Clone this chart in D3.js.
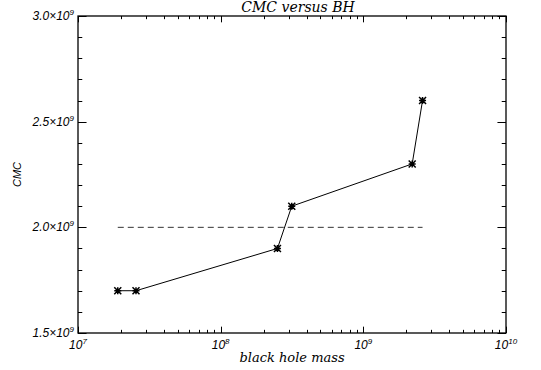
<!DOCTYPE html>
<html>
<head>
<meta charset="utf-8">
<script src="https://cdn.jsdelivr.net/npm/d3@7"></script>
<style>
  body { margin: 0; background: #fff; }
  svg { display: block; }
</style>
</head>
<body>
<svg id="chart" width="541" height="370"></svg>
<script>
// values
const bhMass = [1.9e7, 2.55e7, 2.5e8, 3.15e8, 2.2e9, 2.6e9];
const cmc = [1.7e9, 1.7e9, 1.9e9, 2.1e9, 2.3e9, 2.6e9];
const refLevel = [2.0e9];
const xMajor = [1e7, 1e8, 1e9, 1e10];
const xLabels = ["7", "8", "9", "10"];
const yMajor = [1.5e9, 2.0e9, 2.5e9, 3.0e9];
const yLabels = ["1.5", "2.0", "2.5", "3.0"];

const settings = {
  width: 541,
  height: 370,
  margin: { left: 78, top: 16, right: 35, bottom: 37 },
};

const svg = d3.select("#chart");
const m = settings.margin;
const x0 = m.left, x1 = settings.width - m.right;
const y0 = settings.height - m.bottom, y1 = m.top;

const x = d3.scaleLog().domain([1e7, 1e10]).range([x0, x1]);
const y = d3.scaleLinear().domain([1.5e9, 3.0e9]).range([y0, y1]);

const xlen = 0.02 * (y0 - y1);
const ylen = 0.02 * (x1 - x0);

// minor ticks
const xMinor = [];
xMajor.slice(0, -1).forEach((d) => {
  for (let k = 2; k <= 9; k++) xMinor.push(d * k);
});
const yMinor = d3.range(1.5e9, 3.0e9 + 1, 1e8).filter(
  (v) => !yMajor.some((t) => Math.abs(t - v) < 1)
);

const ticks = svg.append("g").attr("class", "ticks").attr("stroke", "#000").attr("stroke-width", 1);

function xTicks(data, len) {
  ticks.append("g").selectAll("line").data(data).join("line")
    .attr("x1", (d) => Math.round(x(d)) + 0.5).attr("x2", (d) => Math.round(x(d)) + 0.5)
    .attr("y1", y0).attr("y2", y0 - len);
  ticks.append("g").selectAll("line").data(data).join("line")
    .attr("x1", (d) => Math.round(x(d)) + 0.5).attr("x2", (d) => Math.round(x(d)) + 0.5)
    .attr("y1", y1).attr("y2", y1 + len);
}
function yTicks(data, len) {
  ticks.append("g").selectAll("line").data(data).join("line")
    .attr("y1", (d) => Math.round(y(d)) + 0.5).attr("y2", (d) => Math.round(y(d)) + 0.5)
    .attr("x1", x0).attr("x2", x0 + len);
  ticks.append("g").selectAll("line").data(data).join("line")
    .attr("y1", (d) => Math.round(y(d)) + 0.5).attr("y2", (d) => Math.round(y(d)) + 0.5)
    .attr("x1", x1).attr("x2", x1 - len);
}
xTicks(xMajor, xlen);
xTicks(xMinor, xlen / 2);
yTicks(yMajor, ylen);
yTicks(yMinor, ylen / 2);

// frame
svg.append("rect")
  .attr("x", x0).attr("y", y1)
  .attr("width", x1 - x0).attr("height", y0 - y1)
  .attr("fill", "none").attr("stroke", "#000").attr("stroke-width", 1.3);

// tick labels
const tickFont = "'Liberation Sans', Arial, sans-serif";
const xl = svg.append("g").attr("class", "xlabels")
  .attr("font-family", tickFont).attr("font-style", "italic").attr("font-size", 12);
xl.selectAll("text").data(xMajor).join("text")
  .attr("x", (d) => x(d))
  .attr("y", y0 + 16)
  .attr("text-anchor", "middle")
  .each(function (d, i) {
    const t = d3.select(this);
    t.append("tspan").text("10");
    t.append("tspan").attr("dy", -5).attr("font-size", 8).text(xLabels[i]);
  });

const yl = svg.append("g").attr("class", "ylabels")
  .attr("font-family", tickFont).attr("font-style", "italic").attr("font-size", 12);
yl.selectAll("text").data(yMajor).join("text")
  .attr("x", x0 - 4)
  .attr("y", (d) => y(d) + 4)
  .attr("text-anchor", "end")
  .each(function (d, i) {
    const t = d3.select(this);
    t.append("tspan").text(yLabels[i] + "\u00d710");
    t.append("tspan").attr("dy", -5).attr("font-size", 8).text("9");
  });

// titles
const serif = "'DejaVu Serif', 'Liberation Serif', serif";
svg.append("text")
  .attr("x", (x0 + x1) / 2 + 6).attr("y", 12)
  .attr("text-anchor", "middle")
  .attr("font-family", serif).attr("font-style", "italic").attr("font-size", 14)
  .text("CMC versus BH");

svg.append("text")
  .attr("x", (x0 + x1) / 2 + 0).attr("y", 362)
  .attr("text-anchor", "middle")
  .attr("font-family", serif).attr("font-style", "italic").attr("font-size", 13)
  .text("black hole mass");

svg.append("text")
  .attr("transform", `translate(21, ${(y0 + y1) / 2}) rotate(-90)`)
  .attr("text-anchor", "middle")
  .attr("font-family", tickFont).attr("font-style", "italic").attr("font-size", 11)
  .text("CMC");

// dashed reference line across the data range
const [xmin, xmax] = d3.extent(bhMass);
svg.append("g").attr("class", "ref").selectAll("line").data(refLevel).join("line")
  .attr("x1", x(xmin)).attr("x2", x(xmax))
  .attr("y1", (d) => y(d)).attr("y2", (d) => y(d))
  .attr("stroke", "#333").attr("stroke-width", 1)
  .attr("stroke-dasharray", "6,4");

// data line
const pts = bhMass.map((d, i) => [d, cmc[i]]);
const line = d3.line().x((d) => x(d[0])).y((d) => y(d[1]));
svg.append("path")
  .datum(pts)
  .attr("d", line)
  .attr("fill", "none")
  .attr("stroke", "#000")
  .attr("stroke-width", 1);

// asterisk symbols
const r = 3.5;
const sym = `M${-r},0H${r}M0,${-r}V${r}M${-r},${-r}L${r},${r}M${-r},${r}L${r},${-r}`;
svg.append("g").attr("class", "points").selectAll("path").data(pts).join("path")
  .attr("transform", (d) => `translate(${x(d[0])},${y(d[1])})`)
  .attr("d", sym)
  .attr("stroke", "#000")
  .attr("stroke-width", 1.5)
  .attr("fill", "none");
</script>
</body>
</html>
